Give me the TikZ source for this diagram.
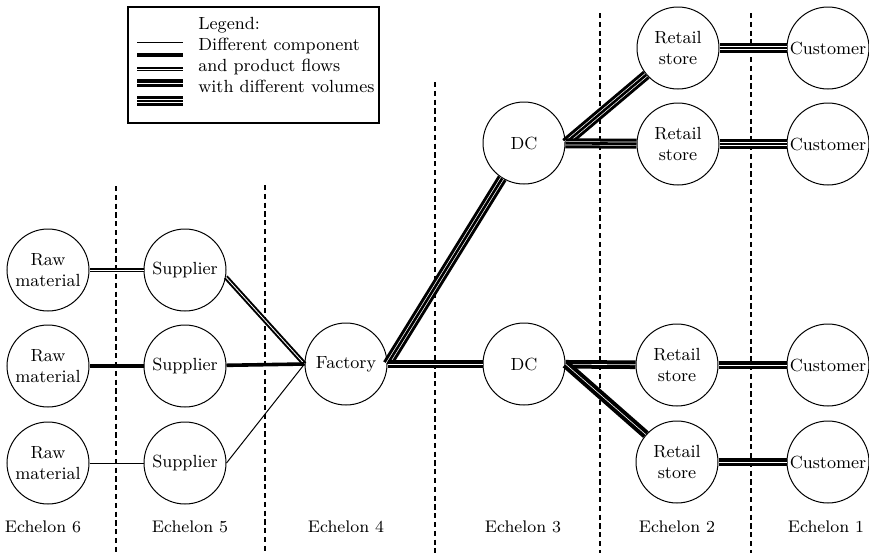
\documentclass[tikz,border=0pt]{standalone}
\usepackage{tikz}

\begin{document}
\begin{tikzpicture}[x=0.5pt,y=-0.5pt,
    every node/.style={font=\fontsize{8.8}{10.5}\selectfont},
    site/.style={draw,circle,line width=0.5pt,minimum size=41pt,inner sep=0pt,align=center},
    echelon/.style={font=\fontsize{8.4}{9}\selectfont},
    divider/.style={line width=0.9pt,dash pattern=on 2.6pt off 1.8pt},
    flowA/.style={line width=0.5pt},
    flowB/.style={line width=1.8pt},
    flowC/.style={line width=1pt,double=white,double distance=0.4pt},
    flowD/.style={line width=2pt,double=white,double distance=0.3pt},
    flowE/.style={line width=5pt,postaction={draw=white,line width=0.35pt,double=black,double distance=1.3pt}}]
  \useasboundingbox (0,0) rectangle (869,553);

  % echelon borders
  \draw[divider] (116,186) -- (116,553);
  \draw[divider] (265,185) -- (265,553);
  \draw[divider] (435,82) -- (435,553);
  \draw[divider] (600,13) -- (600,553);
  \draw[divider] (751,13) -- (751,553);

  % legend
  \draw[line width=0.6pt] (128,7) rectangle (379,123);
  \node[anchor=north west,inner sep=0pt,align=left] (legend) at (198,17)
    {Legend:\\Different component\\and product flows\\with different volumes};
  \draw[flowA] (137,42) -- (183,42);
  \draw[flowB] (137,55) -- (183,55);
  \draw[flowC] (137,69) -- (183,69);
  \draw[flowD] (137,83) -- (183,83);
  \draw[flowE] (137,101) -- (183,101);

  % echelon 6 and 5
  \node[site] (raw1) at (48,270) {Raw\\material};
  \node[site] (raw2) at (48,366) {Raw\\material};
  \node[site] (raw3) at (48,463) {Raw\\material};
  \node[site] (sup1) at (185,270) {Supplier};
  \node[site] (sup2) at (185,366) {Supplier};
  \node[site] (sup3) at (185,463) {Supplier};

  % echelon 4 and 3
  \node[site] (fac) at (346,364) {Factory};
  \node[site] (dc1) at (524,143) {DC};
  \node[site] (dc2) at (524,364) {DC};

  % echelon 2 and 1
  \node[site] (ret1) at (678,48) {Retail\\store};
  \node[site] (ret2) at (678,144) {Retail\\store};
  \node[site] (ret3) at (677,365) {Retail\\store};
  \node[site] (ret4) at (677,462) {Retail\\store};
  \node[site] (cus1) at (828,48) {Customer};
  \node[site] (cus2) at (828,144) {Customer};
  \node[site] (cus3) at (828,365) {Customer};
  \node[site] (cus4) at (828,462) {Customer};

  \draw[flowC] (raw1) -- (sup1);
  \draw[flowB] (raw2) -- (sup2);
  \draw[flowA] (raw3) -- (sup3);
  \draw[flowC] (sup1.-10) -- (fac.west);
  \draw[flowB] (sup2) -- (fac.west);
  \draw[flowA] (sup3.east) -- (fac.west);
  \draw[flowE] (fac.east) -- (dc1);
  \draw[flowD] (fac) -- (dc2);
  \draw[flowE] (dc1.east) -- (ret1);
  \draw[flowE] (dc1) -- (ret2);
  \draw[flowD] (dc2) -- (ret3);
  \draw[flowD] (dc2.east) -- (ret4);
  \draw[flowE] (ret1) -- (cus1);
  \draw[flowE] (ret2) -- (cus2);
  \draw[flowD] (ret3) -- (cus3);
  \draw[flowD] (ret4) -- (cus4);

  \node[echelon] (ech6) at (43,527) {Echelon 6};
  \node[echelon] (ech5) at (190,527) {Echelon 5};
  \node[echelon] (ech4) at (346,527) {Echelon 4};
  \node[echelon] (ech3) at (523,527) {Echelon 3};
  \node[echelon] (ech2) at (677,527) {Echelon 2};
  \node[echelon] (ech1) at (826,527) {Echelon 1};
\end{tikzpicture}
\end{document}
